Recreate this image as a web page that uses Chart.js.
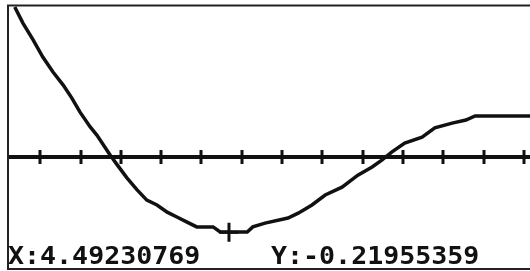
<!DOCTYPE html>
<html>
<head>
<meta charset="utf-8">
<script src="https://cdn.jsdelivr.net/npm/chart.js@4"></script>
<style>
  html, body { margin: 0; padding: 0; background: #fff; }
  canvas { display: block; }
</style>
</head>
<body>
<canvas id="graph" width="530" height="271"></canvas>
<script>
// curve
const xs = [0.29, 0.45, 0.65, 0.84, 1.04, 1.24, 1.41, 1.57, 1.77, 1.90, 2.16, 2.30, 2.49, 2.69, 2.88,
  3.08, 3.28, 3.47, 3.67, 3.86, 4.18, 4.32, 4.85, 4.96, 5.20, 5.65, 5.85, 6.12, 6.38, 6.71,
  7.02, 7.30, 7.49, 7.69, 7.94, 8.28, 8.53, 8.87, 9.14, 9.32, 10.40];
const ys = [0.438, 0.391, 0.342, 0.292, 0.248, 0.210, 0.172, 0.131, 0.088, 0.064, 0.006, -0.023, -0.061, -0.096, -0.126,
  -0.140, -0.161, -0.175, -0.190, -0.204, -0.204, -0.219, -0.219, -0.204, -0.193, -0.178, -0.164, -0.140, -0.111, -0.088,
  -0.053, -0.029, -0.009, 0.015, 0.041, 0.058, 0.085, 0.099, 0.108, 0.120, 0.120];

// trace cursor
const cursorX = 4.49230769;
const cursorY = -0.21955359;

// tick marks on the x axis (no labels on screen)
const xTicks = [0.79, 1.58, 2.37, 3.16, 3.95, 4.74, 5.53, 6.32, 7.12, 7.91, 8.70, 9.49, 10.28];

const calcScreen = {
  id: 'calcScreen',
  beforeDatasetsDraw(chart) {
    const { ctx, chartArea: a, scales: { x, y } } = chart;
    ctx.save();
    // frame
    ctx.strokeStyle = '#222';
    ctx.lineWidth = 2;
    ctx.beginPath();
    ctx.moveTo(530, 5.5); ctx.lineTo(8, 5.5); ctx.lineTo(8, 269); ctx.lineTo(530, 269);
    ctx.stroke();
    // x axis and ticks
    const y0 = y.getPixelForValue(0);
    ctx.strokeStyle = '#111';
    ctx.lineWidth = 4;
    ctx.beginPath();
    ctx.moveTo(a.left, y0); ctx.lineTo(a.right, y0);
    ctx.stroke();
    ctx.lineWidth = 3;
    ctx.beginPath();
    xTicks.forEach(t => {
      const px = Math.round(x.getPixelForValue(t));
      ctx.moveTo(px, y0 - 7); ctx.lineTo(px, y0 + 7);
    });
    ctx.stroke();
    ctx.restore();
  },
  afterDraw(chart) {
    const { ctx } = chart;
    ctx.save();
    ctx.fillStyle = '#111';
    ctx.font = 'bold 25px "DejaVu Sans Mono"';
    ctx.textBaseline = 'alphabetic';
    const put = (s, left) => {
      ctx.save();
      ctx.translate(left, 264);
      ctx.scale(1.065, 1);
      ctx.fillText(s, 0, 0);
      ctx.restore();
    };
    put('X:' + cursorX.toFixed(8), 8);
    put('Y:' + cursorY.toFixed(8), 271);
    ctx.restore();
  }
};

new Chart(document.getElementById('graph'), {
  type: 'line',
  data: {
    datasets: [
      {
        data: xs.map((v, i) => ({ x: v, y: ys[i] })),
        borderColor: '#111',
        borderWidth: 3.5,
        pointRadius: 0,
        tension: 0,
        fill: false
      },
      {
        type: 'scatter',
        data: [{ x: cursorX, y: cursorY }],
        pointStyle: 'cross',
        pointRadius: 9.5,
        borderColor: '#111',
        borderWidth: 3,
        showLine: false
      }
    ]
  },
  plugins: [calcScreen],
  options: {
    responsive: false,
    animation: false,
    layout: { autoPadding: false, padding: { left: 9, top: 6, right: 0, bottom: 2 } },
    plugins: { legend: { display: false }, tooltip: { enabled: false } },
    scales: {
      x: { type: 'linear', display: false, min: 0.177, max: 10.397 },
      y: { display: false, min: -0.327, max: 0.441 }
    }
  }
});
</script>
</body>
</html>
